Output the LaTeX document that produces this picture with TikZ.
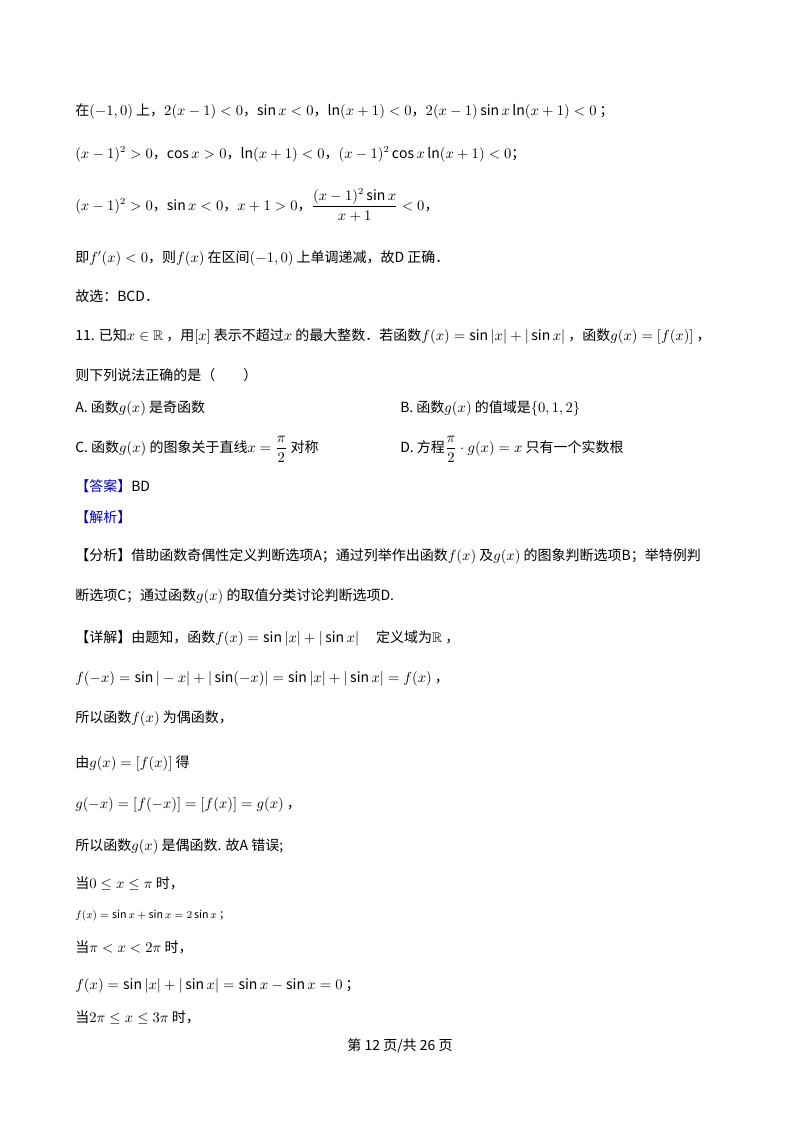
\documentclass[tikz,border=0pt]{standalone}
\usepackage{amsmath,amssymb}
\usepackage{fontspec}
\setmainfont{Noto Sans CJK SC}
\begin{document}
\begin{tikzpicture}[x=0.75pt,y=-0.75pt,
  t/.style={anchor=base west,inner sep=0pt,font=\fontsize{10.5}{12}\selectfont},
  tag/.style={t,text=blue!70!black}]
\useasboundingbox (0,0) rectangle (800,1132);
\node[t] (l1) at (75,115) {在$(-1,0)$ 上，$2(x-1)<0$，$\sin x<0$，$\ln(x+1)<0$，$2(x-1)\sin x\ln(x+1)<0$ ；};
\node[t] (l2) at (75,158) {$(x-1)^2>0$，$\cos x>0$，$\ln(x+1)<0$，$(x-1)^2\cos x\ln(x+1)<0$；};
\node[t] (l3) at (75,210) {$(x-1)^2>0$，$\sin x<0$，$x+1>0$，$\dfrac{(x-1)^2\sin x}{x+1}<0$，};
\node[t] (l4) at (75,262) {即$f'(x)<0$，则$f(x)$ 在区间$(-1,0)$ 上单调递减，故D 正确．};
\node[t] (l5) at (75,301) {故选：BCD．};
\node[t] (l6) at (75,340) {11. 已知$x\in\mathbb{R}$ ，用$[x]$ 表示不超过$x$ 的最大整数．若函数$f(x)=\sin|x|+|\sin x|$ ，函数$g(x)=[f(x)]$ ，};
\node[t] (l7) at (75,380) {则下列说法正确的是（\quad\quad ）};
\node[t] (a) at (75,412) {A. 函数$g(x)$ 是奇函数};
\node[t] (b) at (400,412) {B. 函数$g(x)$ 的值域是$\{0,1,2\}$};
\node[t] (c) at (75,452) {C. 函数$g(x)$ 的图象关于直线$x=\dfrac{\pi}{2}$ 对称};
\node[t] (d) at (400,452) {D. 方程$\dfrac{\pi}{2}\cdot g(x)=x$ 只有一个实数根};
\node[tag] (ans) at (75,491) {【答案】\textcolor{black}{BD}};
\node[tag] (jx) at (75,522) {【解析】};
\node[t] (p1) at (75,560) {【分析】借助函数奇偶性定义判断选项A；通过列举作出函数$f(x)$ 及$g(x)$ 的图象判断选项B；举特例判};
\node[t] (p2) at (75,600) {断选项C；通过函数$g(x)$ 的取值分类讨论判断选项D.};
\node[t] (p3) at (75,642) {【详解】由题知，函数$f(x)=\sin|x|+|\sin x|$ \quad 定义域为$\mathbb{R}$ ，};
\node[t] (p4) at (75,682) {$f(-x)=\sin|-x|+|\sin(-x)|=\sin|x|+|\sin x|=f(x)$ ，};
\node[t] (p5) at (75,722) {所以函数$f(x)$ 为偶函数，};
\node[t] (p6) at (75,767) {由$g(x)=[f(x)]$ 得};
\node[t] (p7) at (75,808) {$g(-x)=[f(-x)]=[f(x)]=g(x)$ ，};
\node[t] (p8) at (75,850) {所以函数$g(x)$ 是偶函数. 故A 错误;};
\node[t] (p9) at (75,888) {当$0\le x\le\pi$ 时，};
\node[t] (p10) at (75,918) {\footnotesize$f(x)=\sin x+\sin x=2\sin x$ ；};
\node[t] (p11) at (75,952) {当$\pi<x<2\pi$ 时，};
\node[t] (p12) at (75,989) {$f(x)=\sin|x|+|\sin x|=\sin x-\sin x=0$ ；};
\node[t] (p13) at (75,1022) {当$2\pi\le x\le 3\pi$ 时，};
\node[t,anchor=base] (ft) at (400,1050) {第 12 页/共 26 页};
\end{tikzpicture}
\end{document}
